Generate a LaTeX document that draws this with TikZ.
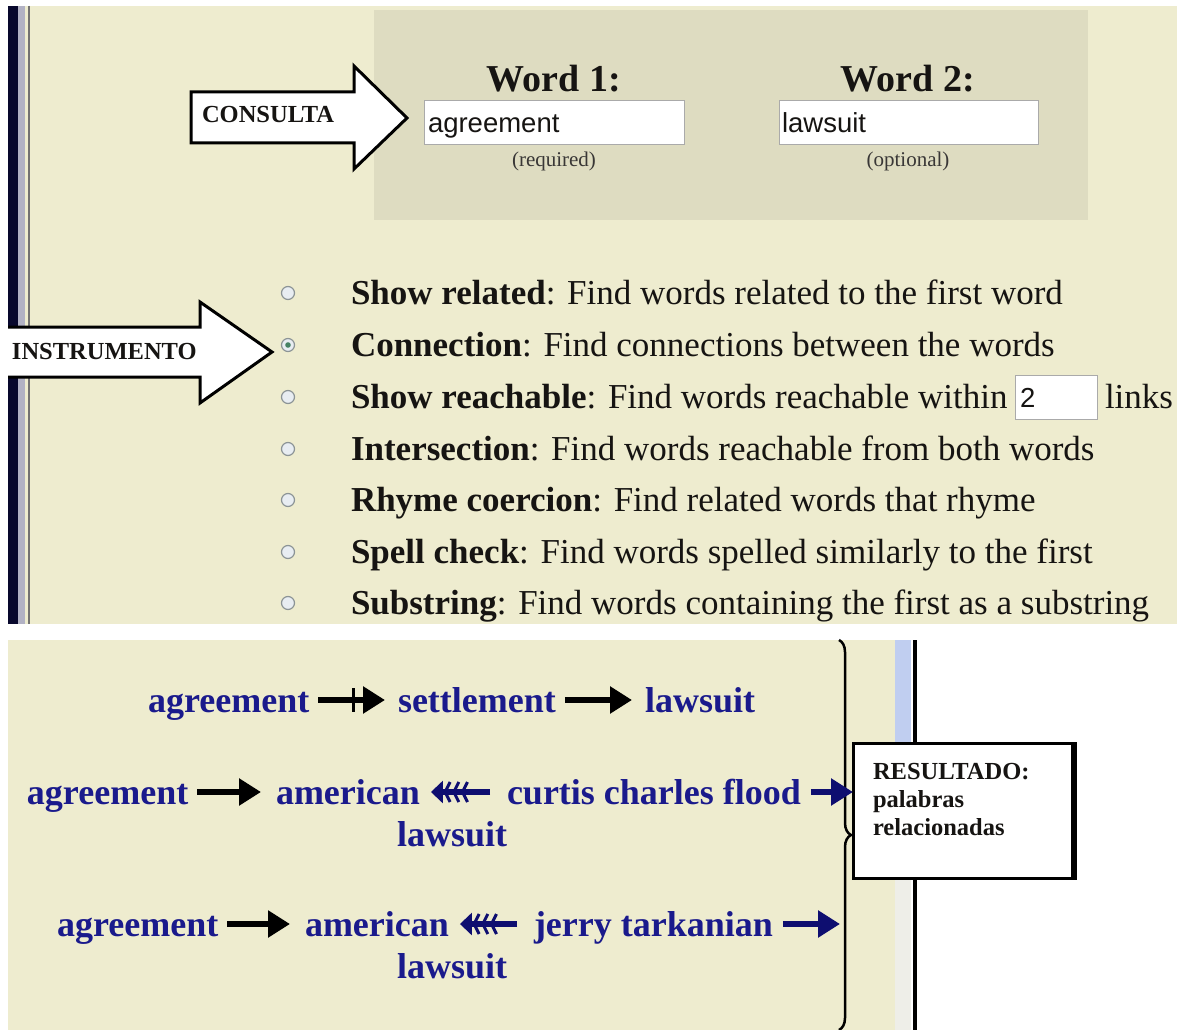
\documentclass[tikz,border=0pt]{standalone}
\usepackage{fontspec}
\setmainfont{Liberation Serif}
\newfontfamily\uisans{Liberation Sans}
\usetikzlibrary{arrows.meta,decorations.pathreplacing}

\definecolor{paper}{RGB}{238,236,207}
\definecolor{panelgrey}{RGB}{222,220,193}
\definecolor{navybar}{RGB}{8,8,45}
\definecolor{barlight}{RGB}{178,178,196}
\definecolor{ink}{RGB}{22,20,18}
\definecolor{wordblue}{RGB}{26,26,140}
\definecolor{arrowblue}{RGB}{14,14,112}
\definecolor{radioedge}{RGB}{140,148,150}
\definecolor{radiofill}{RGB}{232,237,242}
\definecolor{radiodot}{RGB}{70,130,100}
\definecolor{fieldedge}{RGB}{170,170,170}
\definecolor{scroll}{RGB}{192,206,240}
\definecolor{scrolllow}{RGB}{238,238,232}

\begin{document}
\begin{tikzpicture}[x=1pt,y=-1pt,
  every node/.style={inner sep=0pt, outer sep=0pt},
  opt/.style={anchor=base west, font=\fontsize{35}{40}\selectfont, text=ink},
  radio/.style={circle, draw=radioedge, fill=radiofill, line width=1.2pt, minimum size=13pt},
  field/.style={draw=fieldedge, fill=white, line width=1pt, anchor=north west},
  fieldtxt/.style={anchor=base west, font=\uisans\fontsize{27.5}{30}\selectfont, text=ink},
  hdr/.style={anchor=base, font=\bfseries\fontsize{38}{42}\selectfont, text=ink},
  hint/.style={anchor=base, font=\fontsize{21}{24}\selectfont, text=ink!85},
  callout/.style={fill=white, draw=black, line width=3pt, line join=miter},
  calltxt/.style={anchor=base west, font=\bfseries\fontsize{24.5}{28}\selectfont, text=ink},
  word/.style={anchor=base west, font=\bfseries\fontsize{36}{40}\selectfont, text=wordblue,
               text height=26pt, text depth=2pt},
  blkarr/.style={draw=black, line width=6pt, -{Triangle[length=22pt,width=26pt]}},
  bluearr/.style={draw=arrowblue, line width=6pt, -{Triangle[length=22pt,width=26pt]}},
  featharr/.style={draw=arrowblue, line width=6pt,
    -{Straight Barb[length=5pt,width=20pt,line width=3pt,sep=0.5pt]
      Straight Barb[length=5pt,width=20pt,line width=3pt,sep=0.5pt]
      Straight Barb[length=5pt,width=20pt,line width=3pt,sep=0.5pt]
      Triangle[length=12pt,width=22pt]}},
]
\useasboundingbox (0,0) rectangle (1183,1030);
\clip (0,0) rectangle (1183,1030);
\fill[white] (0,0) rectangle (1183,1030);

% ---------- query form panel ----------
\fill[paper] (8,6) rectangle (1177,624);
\fill[navybar] (8,6) rectangle (18,624);
\fill[barlight] (18,6) rectangle (25,624);
\draw[ink!60, line width=1.5pt] (29,6) -- (29,624);
\fill[panelgrey] (374,10) rectangle (1088,220);

% word fields
\node[field, minimum width=260pt, minimum height=44pt] (f1) at (424,101) {};
\node[field, minimum width=259pt, minimum height=44pt] (f2) at (779,101) {};
\node[fieldtxt] (f1t) at (428,133) {agreement};
\node[fieldtxt] (f2t) at (782,133) {lawsuit};
\node[hdr] (w1) at (554,92) {Word 1:};
\node[hdr] (w2) at (908,92) {Word 2:};
\node[hint] (w1n) at (554,167) {(required)};
\node[hint] (w2n) at (908,167) {(optional)};

% option list
\foreach \i/\yy in {1/293,2/345,3/397,4/449,5/500,6/552,7/603}{
  \node[radio] (rb\i) at (288,\yy) {};
}
\fill[radiodot] (rb2) circle (2.8pt);

\node[opt] (o1) at (351,304) {\textbf{Show related}: Find words related to the first word};
\node[opt] (o2) at (351,356) {\textbf{Connection}: Find connections between the words};
\node[opt] (o3) at (351,408) {\textbf{Show reachable}: Find words reachable within};
\node[field, minimum width=82pt, minimum height=44pt] (nf) at (1015,375) {};
\node[fieldtxt] (nft) at (1020,407) {2};
\node[opt] (o3b) at (1105,408) {links};
\node[opt] (o4) at (351,460) {\textbf{Intersection}: Find words reachable from both words};
\node[opt] (o5) at (351,511) {\textbf{Rhyme coercion}: Find related words that rhyme};
\node[opt] (o6) at (351,563) {\textbf{Spell check}: Find words spelled similarly to the first};
\node[opt] (o7) at (351,614) {\textbf{Substring}: Find words containing the first as a substring};

% callout arrows
\path[callout] (191,92) -- (354,92) -- (354,66) -- (407,118) -- (354,169)
  -- (354,143) -- (191,143) -- cycle;
\node[calltxt] (consulta) at (202,123) {CONSULTA};

\fill[white] (8,327) -- (200,327) -- (200,302) -- (272,352) -- (200,403)
  -- (200,377) -- (8,377) -- cycle;
\draw[black, line width=3pt, line join=miter] (8,327) -- (200,327) -- (200,302)
  -- (272,352) -- (200,403) -- (200,377) -- (8,377);
\node[calltxt] (instrumento) at (12,359) {INSTRUMENTO};

% ---------- result panel ----------
\fill[paper] (8,640) rectangle (895,1030);
\fill[scroll] (895,640) rectangle (911,745);
\fill[scrolllow] (895,745) rectangle (911,1030);
\draw[black, line width=4pt] (915,640) -- (915,1030);

% row 1
\node[word] (r1a) at (148,712) {agreement};
\node[word] (r1b) at (398,712) {settlement};
\node[word] (r1c) at (645,712) {lawsuit};
% row 2
\node[word] (r2a) at (27,804) {agreement};
\node[word] (r2b) at (276,804) {american};
\node[word] (r2c) at (507,804) {curtis charles flood};
\node[word] (r2d) at (397,846) {lawsuit};
% row 3
\node[word] (r3a) at (57,936) {agreement};
\node[word] (r3b) at (305,936) {american};
\node[word] (r3c) at (534,936) {jerry tarkanian};
\node[word] (r3d) at (397,978) {lawsuit};

\draw[blkarr, shorten <=9pt, shorten >=13pt] (r1a) --
  node[pos=0.5, fill=black, minimum width=3pt, minimum height=24pt] (tick1) {} (r1b);
\draw[blkarr, shorten <=9pt, shorten >=13pt] (r1b) -- (r1c);
\draw[blkarr, shorten <=9pt, shorten >=15pt] (r2a) -- (r2b);
\draw[featharr, shorten <=17pt, shorten >=11pt] (r2c) -- (r2b);
\draw[blkarr, shorten <=9pt, shorten >=15pt] (r3a) -- (r3b);
\draw[featharr, shorten <=17pt, shorten >=11pt] (r3c) -- (r3b);

% brace gathering the results
\draw[black, line width=2.5pt, decorate, decoration={brace, amplitude=12pt}]
  (839,640) -- (839,1030);

\node[draw=black, fill=white, line width=3pt, anchor=north west,
      minimum width=222pt, minimum height=135pt] (res) at (853,743) {};
\draw[black, line width=5pt] ([xshift=-2pt]res.north east) -- ([xshift=-2pt]res.south east);
\node[calltxt, anchor=north west, align=left] (restxt) at (873,763)
  {RESULTADO:\\palabras\\relacionadas};

\draw[bluearr, shorten <=10pt] (r2c.east) -- (r2c.east -| res.west);
\coordinate (r3end) at (840,924);
\draw[bluearr, shorten <=10pt] (r3c.east) -- (r3c.east -| r3end);
\end{tikzpicture}
\end{document}
